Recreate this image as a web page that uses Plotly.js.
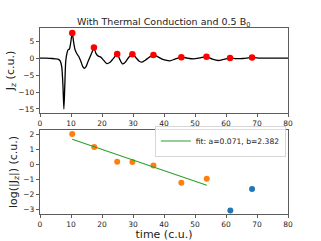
<!DOCTYPE html>
<html>
<head>
<meta charset="utf-8">
<script src="https://cdn.plot.ly/plotly-3.0.1.min.js"></script>
<style>html,body{margin:0;padding:0;background:#fff;}#chart{width:321px;height:241px;}</style>
</head>
<body>
<div id="chart"></div>
<script>
// Top panel: Jz(t) curve
const curveT = [0,2,4,5,5.8,6.5,7.0,7.4,7.7,8.0,8.3,8.7,9.1,9.5,9.9,10.4,10.8,11.3,11.9,12.5,13.2,13.8,14.3,14.8,15.5,16.2,16.8,17.4,18.0,18.8,19.6,20.5,21.6,22.5,23.5,24.9,25.7,26.6,27.5,28.6,29.8,30.9,32.0,32.9,34.0,35.3,36.6,37.8,39.2,40.5,41.9,43.5,45.6,47.5,49.5,51.7,53.7,55.6,57.5,59.5,61.3,63.3,65.5,68.4,71,75,80];
const curveJ = [0,0,-0.1,-0.2,-0.3,-0.8,-2.5,-8,-15,-8,-1,1.5,2.5,2.7,4.5,7.5,5,2.5,1.3,0.5,-1,-2.5,-3.0,-2.6,-1,0.5,1.8,3.1,1.5,0.6,0.3,-0.6,-1.6,-1.3,-0.3,1.2,-0.3,-1.7,-1.2,0.2,1.2,0.2,-0.9,-1.2,-0.6,0.3,0.85,0.5,-0.2,-0.6,-0.8,-0.3,0.3,0,-0.2,0.1,0.4,-0.3,-0.7,-0.3,0.05,-0.15,-0.1,0.2,0,0,0];
// Peaks
const peakT = [10.4,17.4,24.9,29.8,36.6,45.6,53.7,61.3,68.4];
const peakJ = [7.4,3.15,1.2,1.15,0.9,0.29,0.38,0.05,0.19];
// Bottom panel: log|Jz| of peaks
const fitPtsT = [10.4,17.5,24.9,29.8,36.6,45.6,53.8];
const fitPtsLog = [2.0,1.13,0.15,0.13,-0.09,-1.25,-0.98];
const otherT = [61.4,68.4];
const otherLog = [-3.09,-1.67];
// Fit line endpoints
const fitLineT = [10.4,53.8];
const fitLineLog = [1.65,-1.42];
const xTicks = [0,10,20,30,40,50,60,70,80];

const tickFont = {family:'DejaVu Sans', size:7.5, color:'#222'};
const axCommon = {showline:true, mirror:true, linecolor:'#333', linewidth:0.8, ticks:'outside', ticklen:3.5, tickwidth:0.8, tickcolor:'#333', showgrid:false, zeroline:false, tickfont:tickFont};

const data = [
  {x:curveT, y:curveJ, type:'scatter', mode:'lines', line:{color:'#000', width:1.3, shape:'spline', smoothing:0.7}, xaxis:'x', yaxis:'y', showlegend:false, hoverinfo:'skip'},
  {x:peakT, y:peakJ, type:'scatter', mode:'markers', marker:{color:'#ff0000', size:6.5}, xaxis:'x', yaxis:'y', showlegend:false},
  {x:fitPtsT, y:fitPtsLog, type:'scatter', mode:'markers', marker:{color:'#ff7f0e', size:6}, xaxis:'x2', yaxis:'y2', showlegend:false},
  {x:otherT, y:otherLog, type:'scatter', mode:'markers', marker:{color:'#1f77b4', size:6}, xaxis:'x2', yaxis:'y2', showlegend:false},
  {x:fitLineT, y:fitLineLog, type:'scatter', mode:'lines', line:{color:'#2ca02c', width:1.1}, xaxis:'x2', yaxis:'y2', name:'fit: a=0.071, b=2.382', showlegend:true}
];

const layout = {
  width:321, height:241,
  margin:{l:40, r:33, t:28, b:27, pad:0},
  paper_bgcolor:'#fff', plot_bgcolor:'#fff',
  font:{family:'DejaVu Sans', color:'#222'},
  title:{text:'With Thermal Conduction and 0.5 B<sub>0</sub>', font:{family:'DejaVu Sans', size:9.5, color:'#222'}, x:0.51, xanchor:'center', yref:'container', y:0.91, yanchor:'middle'},
  xaxis:Object.assign({}, axCommon, {domain:[0,1], range:[0,80], tickvals:xTicks, anchor:'y'}),
  yaxis:Object.assign({}, axCommon, {domain:[0.543,1], range:[-16.2,8.9], tickvals:[5,0,-5,-10,-15], ticktext:['5','0','\u22125','\u221210','\u221215'], anchor:'x',
    title:{text:'J<sub>z</sub> (c.u.)', font:{family:'DejaVu Sans', size:11, color:'#222'}, standoff:1}}),
  xaxis2:Object.assign({}, axCommon, {domain:[0,1], range:[0,80], tickvals:xTicks, anchor:'y2',
    title:{text:'time (c.u.)', font:{family:'DejaVu Sans', size:11, color:'#222'}, standoff:1}}),
  yaxis2:Object.assign({}, axCommon, {domain:[0,0.4516], range:[-3.33,2.27], tickvals:[2,1,0,-1,-2,-3], ticktext:['2','1','0','\u22121','\u22122','\u22123'], anchor:'x2',
    title:{text:'log(|J<sub>z</sub>|) (c.u.)', font:{family:'DejaVu Sans', size:11, color:'#222'}, standoff:3}}),
  legend:{x:0.992, xanchor:'right', y:0.475, yanchor:'top', bgcolor:'rgba(255,255,255,0.8)', bordercolor:'#ccc', borderwidth:0.8, font:{family:'DejaVu Sans', size:7.6, color:'#222'}, tracegroupgap:0, itemwidth:30}
};

Plotly.newPlot('chart', data, layout, {staticPlot:true, displayModeBar:false});
</script>
</body>
</html>
